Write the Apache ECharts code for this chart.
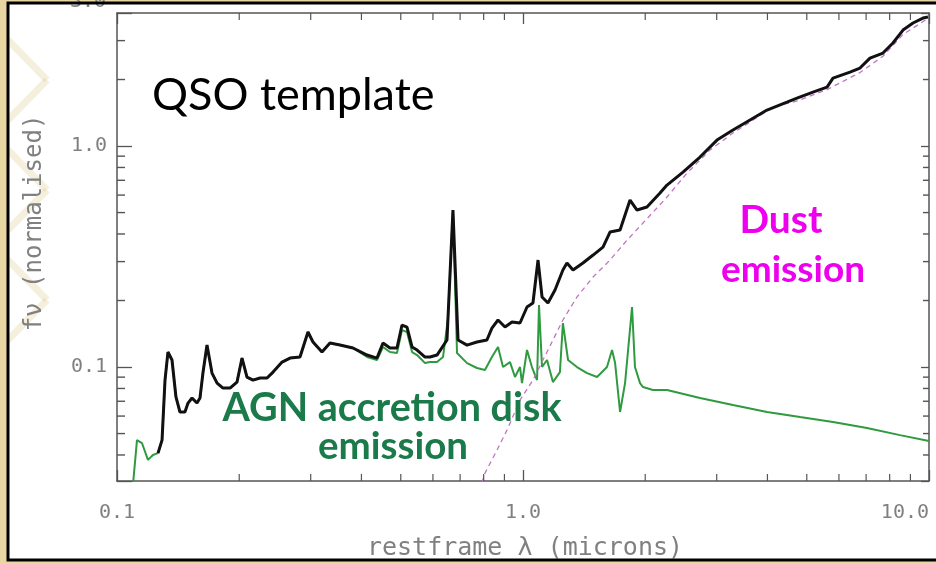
<!DOCTYPE html>
<html><head><meta charset="utf-8">
<script src="https://cdn.jsdelivr.net/npm/echarts@6/dist/echarts.min.js"></script>
<style>html,body{margin:0;padding:0;background:#e8d6a3}#c{width:936px;height:564px}</style>
</head><body><div id="c"></div>
<script>
// ---- data (wavelength in microns, normalised flux) ----
const agnWave=[0.1096,0.1120,0.1152,0.1192,0.1226,0.1262,0.1291,0.1313,0.1335,0.1366,0.1397,0.1429,0.1470,0.1496,0.1530,0.1574,0.1601,0.1628,0.1666,0.1714,0.1764,0.1824,0.1898,0.1975,0.2032,0.2090,0.2163,0.2251,0.2342,0.2423,0.2550,0.2668,0.2823,0.2954,0.3039,0.3198,0.3346,0.3542,0.3813,0.4129,0.4369,0.4520,0.4703,0.4893,0.5035,0.5179,0.5331,0.5484,0.5738,0.5902,0.6141,0.6353,0.6535,0.6722,0.6878,0.7280,0.7701,0.8059,0.8384,0.8679,0.8928,0.9290,0.9557,0.9831,0.9943,1.023,1.052,1.083,1.095,1.114,1.146,1.185,1.233,1.254,1.291,1.358,1.438,1.522,1.610,1.657,1.686,1.734,1.784,1.856,1.887,1.942,1.975,2.090,2.263,2.729,3.290,3.990,4.811,5.802,7.036,8.481,10.0];
const agnFlux=[0.030,0.0467,0.0453,0.0380,0.0400,0.0408,0.0467,0.0873,0.1169,0.1076,0.0732,0.0626,0.0626,0.0687,0.0724,0.0687,0.0724,0.0939,0.1257,0.0939,0.0846,0.0803,0.0803,0.0855,0.1098,0.0901,0.0873,0.0892,0.0892,0.0949,0.1053,0.1098,0.1110,0.1440,0.1298,0.1169,0.1284,0.1257,0.1219,0.1110,0.1076,0.1232,0.1169,0.1157,0.1470,0.1440,0.1169,0.1133,0.1042,0.1053,0.1053,0.1110,0.1666,0.513,0.1157,0.1042,0.0990,0.0969,0.1110,0.1232,0.1000,0.1053,0.0901,0.1000,0.0846,0.1194,0.1000,0.0873,0.1908,0.1000,0.1076,0.0855,0.0949,0.1582,0.1076,0.1000,0.0939,0.0901,0.1000,0.1194,0.1042,0.0626,0.0846,0.1869,0.1000,0.0846,0.0812,0.0787,0.0787,0.0724,0.0673,0.0626,0.0594,0.0564,0.0530,0.0492,0.0463];
const totalWave=[0.1262,0.1291,0.1313,0.1335,0.1366,0.1397,0.1429,0.1470,0.1496,0.1530,0.1574,0.1601,0.1628,0.1666,0.1714,0.1764,0.1824,0.1898,0.1975,0.2032,0.2090,0.2163,0.2251,0.2342,0.2423,0.2550,0.2668,0.2823,0.2954,0.3039,0.3198,0.3346,0.3542,0.3813,0.4129,0.4369,0.4520,0.4703,0.4893,0.5035,0.5179,0.5331,0.5484,0.5738,0.5902,0.6141,0.6498,0.6722,0.6918,0.7280,0.7701,0.8150,0.8384,0.8679,0.9030,0.9395,0.9831,1.023,1.058,1.089,1.114,1.152,1.199,1.254,1.283,1.328,1.405,1.488,1.574,1.638,1.734,1.835,1.909,2.020,2.175,2.263,2.478,2.729,3.005,3.290,3.624,3.990,4.469,4.730,5.179,5.609,5.802,6.389,6.761,7.156,7.703,8.150,8.630,9.133,9.665,9.943];
const totalFlux=[0.0408,0.0467,0.0873,0.1169,0.1076,0.0732,0.0626,0.0626,0.0687,0.0724,0.0687,0.0724,0.0939,0.1257,0.0939,0.0846,0.0803,0.0803,0.0855,0.1098,0.0901,0.0873,0.0892,0.0892,0.0949,0.1053,0.1098,0.1110,0.1440,0.1298,0.1169,0.1284,0.1257,0.1219,0.1133,0.1098,0.1284,0.1219,0.1219,0.1549,0.1517,0.1232,0.1194,0.1110,0.1110,0.1133,0.1325,0.513,0.1325,0.1257,0.1298,0.1325,0.1501,0.1632,0.1517,0.1598,0.1582,0.1869,0.1948,0.3049,0.2074,0.1948,0.2231,0.2748,0.2955,0.2748,0.2955,0.3212,0.3491,0.4082,0.4168,0.5697,0.5133,0.5297,0.6129,0.6661,0.7627,0.8918,1.064,1.181,1.311,1.455,1.581,1.649,1.755,1.849,2.031,2.162,2.254,2.501,2.635,2.925,3.349,3.603,3.795,3.835];
const dustWave=[0.7925,0.8059,0.8630,0.9133,0.9831,1.058,1.120,1.185,1.254,1.358,1.488,1.638,1.805,1.975,2.263,2.535,2.888,3.290,3.687,4.128,4.730,5.609,6.761,7.703,8.630,9.943];
const dustFlux=[0.030,0.0331,0.0421,0.0519,0.0709,0.0873,0.1076,0.1325,0.1632,0.2074,0.2555,0.3049,0.3755,0.4483,0.5879,0.7548,0.9592,1.145,1.311,1.501,1.60,1.80,2.15,2.55,3.20,3.78];

const xTickValues=[0.1,1,10];
const xTickLabels=['0.1','1.0','10.0'];
const yTickValues=[0.1,1];
const yTickLabels=['0.1','1.0'];
const xMinorTicks=[0.2,0.3,0.4,0.5,0.6,0.7,0.8,0.9,2,3,4,5,6,7,8,9];
const yMinorTicks=[0.04,0.05,0.06,0.07,0.08,0.09,0.2,0.3,0.4,0.5,0.6,0.7,0.8,0.9,2,3];
const xAxisName='restframe λ (microns)';
const yAxisName='fν (normalised)';
const cutTopLabel='3.0';

const zip=(a,b)=>a.map((v,i)=>[v,b[i]]);
function labelFor(vals,labs){return v=>{for(let i=0;i<vals.length;i++){if(Math.abs(Math.log10(v)-Math.log10(vals[i]))<1e-6)return labs[i];}return '';};}

const AX='#555', LBL='#808080', MONO='"DejaVu Sans Mono", monospace';
const chart=echarts.init(document.getElementById('c'),null,{renderer:'canvas'});
const xBase={type:'log',logBase:10,min:0.1,max:10,splitLine:{show:false},minorTick:{show:false},
  axisLine:{lineStyle:{color:AX,width:1.5}},axisTick:{inside:true,length:11,lineStyle:{color:AX,width:1.3}}};
const yBase={type:'log',logBase:10,min:0.0305,max:4.0,splitLine:{show:false},minorTick:{show:false},
  axisLine:{lineStyle:{color:AX,width:1.5}},axisTick:{inside:true,length:15,lineStyle:{color:AX,width:1.3}}};

// faint decorative lattice showing through the panel at the far left
const deco=[];
[[8,40,47,80],[47,80,8,120],[8,150,47,190],[47,190,8,230],[8,260,47,300],[47,300,8,340]].forEach(s=>{
  deco.push({type:'line',z:-5,shape:{x1:s[0],y1:s[1],x2:s[2],y2:s[3]},style:{stroke:'#dcc487',lineWidth:7,opacity:0.28}});
});

chart.setOption({
  animation:false,
  backgroundColor:'#e8d6a3',
  grid:{left:117,right:7,top:13,bottom:83,containLabel:false,outerBoundsMode:'none'},
  xAxis:[
    Object.assign({},xBase,{position:'bottom',axisLabel:{formatter:labelFor(xTickValues,xTickLabels),color:LBL,fontFamily:MONO,fontSize:20,margin:22,showMinLabel:true,showMaxLabel:true,alignMaxLabel:'right'}}),
    Object.assign({},xBase,{position:'top',axisLabel:{show:false}})
  ],
  yAxis:[
    Object.assign({},yBase,{position:'left',axisLabel:{formatter:labelFor(yTickValues,yTickLabels),color:LBL,fontFamily:MONO,fontSize:20,margin:10}}),
    Object.assign({},yBase,{position:'right',axisLabel:{show:false},axisTick:{inside:true,length:8,lineStyle:{color:AX,width:1.3}}})
  ],
  graphic:[
    {type:'rect',z:-10,shape:{x:8,y:3,width:940,height:557},style:{fill:'#ffffff'}},
    ...deco,
    {type:'rect',z:200,shape:{x:8,y:3,width:940,height:557},style:{fill:null,stroke:'#000',lineWidth:3}},
    {type:'text',z:150,style:{text:cutTopLabel,x:88,y:2,textAlign:'center',textVerticalAlign:'middle',fontFamily:MONO,fontSize:20,fill:LBL}},
    {type:'text',z:150,style:{text:xAxisName,x:525,y:548,textAlign:'center',textVerticalAlign:'middle',fontFamily:MONO,fontSize:25,fill:LBL}},
    {type:'text',z:150,x:35,y:223,rotation:Math.PI/2,style:{text:yAxisName,x:0,y:0,textAlign:'center',textVerticalAlign:'middle',fontFamily:MONO,fontSize:24,fill:LBL}},
    {type:'text',z:150,style:{text:'QSO template',x:152,y:95,textAlign:'left',textVerticalAlign:'middle',fontFamily:'Lato',fontSize:45,fill:'#000'}},
    {type:'text',z:150,style:{text:'Dust',x:781,y:220,textAlign:'center',textVerticalAlign:'middle',fontFamily:'Lato',fontWeight:'bold',fontSize:39,fill:'#ee00ee'}},
    {type:'text',z:150,style:{text:'emission',x:793,y:270,textAlign:'center',textVerticalAlign:'middle',fontFamily:'Lato',fontWeight:'bold',fontSize:37,fill:'#ee00ee'}},
    {type:'text',z:150,style:{text:'AGN accretion disk',x:392,y:408,textAlign:'center',textVerticalAlign:'middle',fontFamily:'Lato',fontWeight:'bold',fontSize:39.5,fill:'#1b7a4a'}},
    {type:'text',z:150,style:{text:'emission',x:393,y:447,textAlign:'center',textVerticalAlign:'middle',fontFamily:'Lato',fontWeight:'bold',fontSize:38.5,fill:'#1b7a4a'}}
  ],
  series:[
    {type:'custom',silent:true,xAxisIndex:0,yAxisIndex:0,data:xMinorTicks.map(v=>[v,1]),z:6,
      renderItem:(p,api)=>{const cs=p.coordSys;const x=api.coord([api.value(0),1])[0];const b=cs.y+cs.height;
        return {type:'group',children:[
          {type:'line',shape:{x1:x,y1:b,x2:x,y2:b-7},style:{stroke:AX,lineWidth:1.2}},
          {type:'line',shape:{x1:x,y1:cs.y,x2:x,y2:cs.y+7},style:{stroke:AX,lineWidth:1.2}}]};}},
    {type:'custom',silent:true,xAxisIndex:0,yAxisIndex:0,data:yMinorTicks.map(v=>[1,v]),z:6,
      renderItem:(p,api)=>{const cs=p.coordSys;const y=api.coord([1,api.value(1)])[1];const r=cs.x+cs.width;
        return {type:'group',children:[
          {type:'line',shape:{x1:cs.x,y1:y,x2:cs.x+8,y2:y},style:{stroke:AX,lineWidth:1.4}},
          {type:'line',shape:{x1:r,y1:y,x2:r-6,y2:y},style:{stroke:AX,lineWidth:1.4}}]};}},
    {name:'AGN',type:'line',data:zip(agnWave,agnFlux),symbol:'none',z:3,lineStyle:{color:'#2f9a3f',width:2}},
    {name:'Dust',type:'line',data:zip(dustWave,dustFlux),symbol:'none',z:4,lineStyle:{color:'#c074c4',width:1.3,type:[5,4]}},
    {name:'Total',type:'line',data:zip(totalWave,totalFlux),symbol:'none',z:5,lineStyle:{color:'#111',width:3}}
  ]
});
</script></body></html>
